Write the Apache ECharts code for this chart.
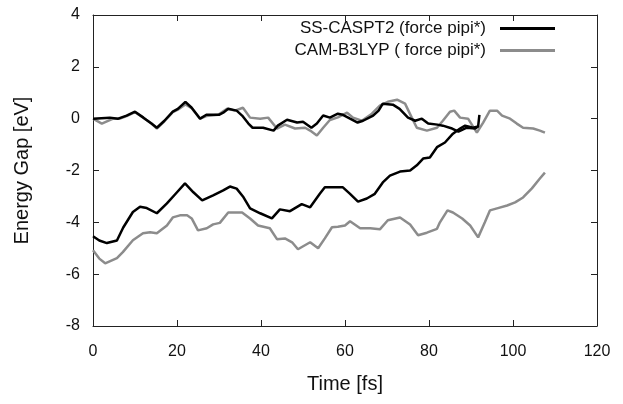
<!DOCTYPE html>
<html>
<head>
<meta charset="utf-8">
<script src="https://cdn.jsdelivr.net/npm/echarts@6/dist/echarts.min.js"></script>
<style>html,body{margin:0;padding:0;background:#fff}#c{width:623px;height:404px}</style>
</head>
<body>
<div id="c"></div>
<script>
const seriesNames = ["SS-CASPT2 (force pipi*)", "CAM-B3LYP ( force pipi*)"];
const xTicks = [0, 20, 40, 60, 80, 100, 120];
const yTicks = [-8, -6, -4, -2, 0, 2, 4];

// SS-CASPT2 upper gap
const casUpperT = [0,2,4,6,8,10,12,14,15.2,17,19,20.2,22,23.5,25.5,27,30,31,32.2,34.2,35.5,37,38,40.5,43,44,46.2,48.6,50,52,53.3,54.8,56.4,58.3,59.5,61.2,63,64.3,66.7,68,69,71.4,73,75,76.7,78.3,79.8,82,83.3,85.5,87,89,91,91.7,92];
const casUpperE = [0,0.02,0.04,0,0.12,0.27,0.04,-0.2,-0.35,-0.08,0.27,0.38,0.65,0.42,0,0.15,0.15,0.23,0.38,0.31,0.12,-0.19,-0.35,-0.35,-0.46,-0.27,-0.04,-0.15,-0.12,-0.35,-0.19,0.12,0.04,0.19,0.15,0,-0.15,-0.08,0.12,0.31,0.58,0.54,0.38,0.04,-0.08,0,-0.19,-0.23,-0.27,-0.38,-0.5,-0.35,-0.38,-0.3,0.15];

// SS-CASPT2 lower gap
const casLowerT = [0,1.5,3.3,5.7,7.2,9.5,11.2,12.8,15.2,17.6,20,21.9,23.9,26,28.6,31,32.6,34.2,35.7,37.4,39.8,42.6,44.5,46.9,49.7,51.7,54,55.2,58.3,59.5,61.2,63.1,65.2,67.1,69,70.7,73.1,75.5,77.1,78.6,80.2,81.9,83.8,85.7,87.4,88.6,90.5,91.7];
const casLowerE = [-4.54,-4.7,-4.8,-4.7,-4.2,-3.6,-3.4,-3.45,-3.65,-3.27,-2.84,-2.5,-2.84,-3.15,-2.96,-2.77,-2.62,-2.7,-3.0,-3.46,-3.65,-3.85,-3.5,-3.57,-3.3,-3.42,-2.9,-2.65,-2.65,-2.65,-2.9,-3.2,-3.08,-2.9,-2.46,-2.2,-2.04,-2.0,-1.8,-1.54,-1.5,-1.1,-0.92,-0.58,-0.38,-0.27,-0.35,-0.3];

// CAM-B3LYP upper gap
const camUpperT = [0,2.1,4.8,6.4,8,10,12,14,15.2,17,19,20.2,22,23.5,25.5,27,29.8,31.9,33.8,35.7,37.4,39.8,41.7,43.8,45.7,48.1,50.5,51.7,53.3,54.8,56.4,58.3,60.5,61.9,64,66.4,68.3,70.2,72.4,74.3,75.9,77.1,79.5,81.9,83.3,85,86,87.4,89.3,91.4,92.9,94.5,96.2,97.4,99.3,100.9,102.4,104.8,106.4,107.6];
const camUpperE = [0,-0.19,0,0,0.1,0.25,0.04,-0.2,-0.38,-0.1,0.25,0.35,0.55,0.4,0,0.1,0.15,0.38,0.31,0.42,0.04,0,0.04,-0.38,-0.23,-0.38,-0.35,-0.46,-0.65,-0.35,-0.05,0.05,0.23,0.04,-0.08,0.19,0.5,0.65,0.73,0.58,0.04,-0.35,-0.46,-0.35,-0.08,0.27,0.31,0.04,0,-0.54,-0.15,0.31,0.31,0.12,0,-0.19,-0.35,-0.38,-0.46,-0.54];

// CAM-B3LYP lower gap
const camLowerT = [0,1.5,2.9,5.7,7.1,9.5,11.9,13.6,15.2,17.6,19,20.7,22.4,23.5,25,27.1,28.6,30.2,32.2,35.5,37.4,39.3,42.1,43.8,45.7,47.4,48.8,51.7,53.6,55.2,56.9,58.3,60,61.2,63.6,66,68.3,70.2,73.1,75.5,77.4,79.5,81.9,82.6,84.4,85.7,87.9,89.8,91.7,93.3,94.5,96.2,98.6,100.5,102.4,104.5,106.4,107.6];
const camLowerE = [-5.08,-5.4,-5.58,-5.38,-5.15,-4.69,-4.42,-4.38,-4.42,-4.12,-3.81,-3.73,-3.73,-3.85,-4.31,-4.23,-4.08,-4.02,-3.62,-3.62,-3.85,-4.12,-4.23,-4.65,-4.62,-4.77,-5.04,-4.77,-5.0,-4.62,-4.19,-4.17,-4.12,-3.96,-4.23,-4.23,-4.27,-3.92,-3.81,-4.08,-4.5,-4.4,-4.25,-4.0,-3.54,-3.62,-3.85,-4.12,-4.58,-4.0,-3.54,-3.46,-3.35,-3.23,-3.04,-2.69,-2.31,-2.08];

function pairs(t, e) { return t.map((v, i) => [v, e[i]]); }

const FONT = "Liberation Sans";
const AXC = "#222";
const chart = echarts.init(document.getElementById('c'), null, {renderer: 'canvas'});

function lineSeries(name, color, t, e) {
  return {
    name: name, type: 'line', showSymbol: false, symbol: 'none',
    data: pairs(t, e), xAxisIndex: 0, yAxisIndex: 0,
    lineStyle: {color: color, width: 2.5}, itemStyle: {color: color},
    animation: false, z: color === '#000000' ? 3 : 2
  };
}

const black = '#000000', gray = '#8c8c8c';
const xBase = {type: 'value', min: xTicks[0], max: xTicks[xTicks.length-1], interval: 20,
  axisLine: {show: true, onZero: false, lineStyle: {color: AXC, width: 1}},
  axisTick: {show: true, inside: true, length: 6, lineStyle: {color: AXC}},
  splitLine: {show: false}};
const yBase = {type: 'value', min: yTicks[0], max: yTicks[yTicks.length-1], interval: 2,
  axisLine: {show: true, onZero: false, lineStyle: {color: AXC, width: 1}},
  axisTick: {show: true, inside: true, length: 6, lineStyle: {color: AXC}},
  splitLine: {show: false}};

chart.setOption({
  animation: false,
  backgroundColor: '#fff',
  grid: {left: 93, right: 26, top: 15, bottom: 78, containLabel: false},
  legend: {
    data: seriesNames, orient: 'vertical', right: 63, top: 15, align: 'right',
    icon: 'rect', itemWidth: 55, itemHeight: 3, itemGap: 5,
    textStyle: {fontFamily: FONT, fontSize: 17, color: '#111', padding: [0, 9, 0, 0]}
  },
  xAxis: [
    Object.assign({}, xBase, {position: 'bottom',
      name: 'Time [fs]', nameLocation: 'middle', nameGap: 48,
      nameTextStyle: {fontFamily: FONT, fontSize: 20, color: '#111'},
      axisLabel: {fontFamily: FONT, fontSize: 16, color: '#111', margin: 18}}),
    Object.assign({}, xBase, {position: 'top', axisLabel: {show: false}})
  ],
  yAxis: [
    Object.assign({}, yBase, {position: 'left',
      name: 'Energy Gap [eV]', nameLocation: 'middle', nameGap: 61,
      nameTextStyle: {fontFamily: FONT, fontSize: 20, color: '#111'},
      axisLabel: {fontFamily: FONT, fontSize: 16, color: '#111', margin: 13}}),
    Object.assign({}, yBase, {position: 'right', axisLabel: {show: false}})
  ],
  series: [
    lineSeries(seriesNames[1], gray, camUpperT, camUpperE),
    lineSeries(seriesNames[1], gray, camLowerT, camLowerE),
    lineSeries(seriesNames[0], black, casUpperT, casUpperE),
    lineSeries(seriesNames[0], black, casLowerT, casLowerE)
  ]
});
</script>
</body>
</html>
